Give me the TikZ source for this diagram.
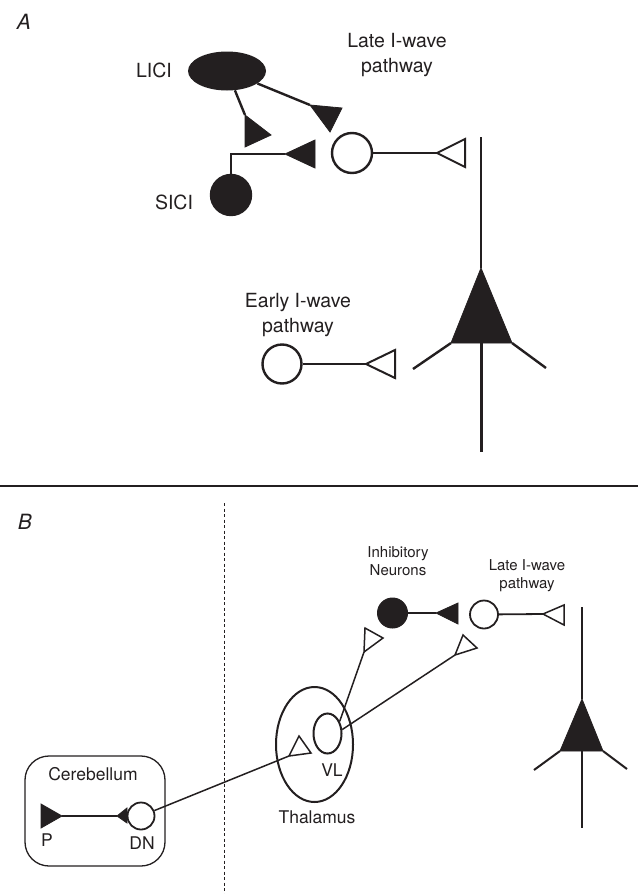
\documentclass[tikz,border=0pt]{standalone}
\usepackage{fontspec}
\setmainfont{TeX Gyre Heros}
\usetikzlibrary{shapes.geometric}
\definecolor{ink}{RGB}{35,31,32}
\tikzset{axon/.style={draw=ink, line width=2.4pt}, thinaxon/.style={draw=ink, line width=1.5pt},
  synfill/.style={fill=ink, draw=ink, line width=0.8pt, line join=miter},
  synopen/.style={draw=ink, fill=white, line width=2pt, line join=miter},
  soma/.style={circle, draw=ink, line width=2.4pt, inner sep=0pt},
  lblA/.style={font=\fontsize{19.5}{25}\selectfont, text=ink, align=center, inner sep=0pt},
  lblB/.style={font=\fontsize{17.5}{21}\selectfont, text=ink, align=center, inner sep=0pt},
  lblS/.style={font=\fontsize{15}{18}\selectfont, text=ink, align=center, inner sep=0pt},
  panel/.style={font=\itshape\fontsize{21}{25}\selectfont, text=ink, inner sep=0pt}}

\begin{document}
\begin{tikzpicture}[x=1pt,y=-1pt]
       \useasboundingbox (0,0) rectangle (638,894);
       % panel A
       \begin{scope}
        \node[panel] (labA) at (24,22) {A};
        \node[ellipse, fill=ink, minimum width=78pt, minimum height=39pt, inner sep=0pt] (lici) at (227,71) {};
        \node[lblA] (liciL) at (154,70) {LICI};
        \node[soma, fill=ink, minimum size=40pt] (sici) at (231,195) {};
        \node[lblA] (siciL) at (174,202) {SICI};
        \node[soma, minimum size=40pt] (late) at (352,153) {};
        \node[lblA] (lateL) at (397,55) {Late I-wave\\pathway};
        \node[soma, minimum size=39pt] (early) at (282,364) {};
        \node[lblA] (earlyL) at (298,315) {Early I-wave\\pathway};
        \coordinate (s1) at (245,115);
        \coordinate (s2) at (310,105);
        \coordinate (s3) at (285,154);
        \coordinate (s4) at (437,153);
        \coordinate (s5) at (366,364);
        \coordinate (pyrA) at (481,268);
        \draw[axon] (lici) -- (s1);
        \filldraw[synfill] (s1) -- ++(0,32) -- ++(26,-12) -- cycle;
        \draw[axon] (lici) -- (s2);
        \filldraw[synfill] (s2) -- ++(32,3) -- ++(-12,24) -- cycle;
        \draw[axon] (sici.north) |- (s3);
        \filldraw[synfill] (s3) -- ++(30,-14) -- ++(0,28) -- cycle;
        \draw[axon] (late) -- (s4);
        \draw[synopen] (s4) -- ++(28,-14) -- ++(0,28) -- cycle;
        \draw[axon] (early) -- (s5);
        \draw[synopen] (s5) -- ++(29,-14) -- ++(0,28) -- cycle;
        \draw[axon] (pyrA) -- ++(0,-131);
        \filldraw[synfill] (pyrA) -- ++(-30,75) -- ++(61,0) -- cycle;
        \draw[axon] (pyrA) ++(-30,75) -- ++(-38,26);
        \draw[axon] (pyrA) ++(31,75) -- ++(34,25);
        \draw[axon] (pyrA) ++(0.5,75) -- ++(0,109);
       \end{scope}
       \draw[ink, line width=2.5pt] (0,486) -- (638,486);
       % panel B
       \begin{scope}
        \node[panel] (labB) at (25,522) {B};
        \draw[ink, line width=1pt, dash pattern=on 3pt off 2.5pt] (224,503) -- (224,894);
        \node[draw=ink, line width=1.3pt, rounded corners=24pt, minimum width=140pt, minimum height=110pt] (cereb) at (95,811) {};
        \node[lblB] (cerebL) at (93,774) {Cerebellum};
        \node[soma, line width=1.8pt, minimum size=27pt] (dn) at (141,816) {};
        \node[lblB] (dnL) at (142,843) {DN};
        \node[lblB] (pL) at (47,840) {P};
        \node[ellipse, draw=ink, line width=2pt, minimum width=77pt, minimum height=115pt, inner sep=0pt] (thal) at (314.5,744.5) {};
        \node[lblB] (thalL) at (317,817) {Thalamus};
        \node[ellipse, draw=ink, line width=2pt, minimum width=28pt, minimum height=40pt, inner sep=0pt] (vl) at (327.5,733.5) {};
        \node[lblB] (vlL) at (332,770) {VL};
        \node[soma, fill=ink, line width=1pt, minimum size=30pt] (inh) at (392.5,613) {};
        \node[lblS] (inhL) at (398,561) {Inhibitory\\Neurons};
        \node[soma, line width=1.8pt, minimum size=28pt] (lateB) at (484,614.5) {};
        \node[lblS] (lateBL) at (527,576) {Late I-wave\\pathway};
        \coordinate (p) at (41,816);
        \coordinate (t1) at (117,816);
        \coordinate (t2) at (289,756);
        \coordinate (t3) at (364,652);
        \coordinate (t4) at (455,655);
        \coordinate (t5) at (436,613);
        \coordinate (t6) at (543,614);
        \coordinate (pyrB) at (582,699);
        \filldraw[synfill] (p) ++(0,-12) -- ++(0,24) -- ++(21,-12) -- cycle;
        \draw[thinaxon] (p) ++(21,0) -- (t1);
        \filldraw[synfill] (t1) -- ++(10,-8) -- ++(0,15) -- cycle;
        \draw[thinaxon] (dn) -- (t2);
        \draw[synopen, line width=1.5pt] (t2) -- ++(10,-20) -- ++(12,17) -- cycle;
        \draw[thinaxon] (vl.45) -- (t3);
        \draw[synopen, line width=1.5pt] (t3) -- ++(1,-24) -- ++(18,10) -- cycle;
        \draw[thinaxon] (vl.15) -- (t4);
        \draw[synopen, line width=1.5pt] (t4) -- ++(8,-20) -- ++(14,13) -- cycle;
        \draw[axon, line width=2pt] (inh) -- (t5);
        \filldraw[synfill] (t5) -- ++(22,-10) -- ++(0,21) -- cycle;
        \draw[axon, line width=1.8pt] (lateB) -- (t6);
        \draw[synopen, line width=1.5pt] (t6) -- ++(21,-9) -- ++(0,20) -- cycle;
        \draw[axon, line width=2pt] (pyrB) -- ++(0,-92);
        \filldraw[synfill] (pyrB) -- ++(-22,52) -- ++(43,0) -- cycle;
        \draw[axon, line width=2pt] (pyrB) ++(-22,52) -- ++(-26,19);
        \draw[axon, line width=2pt] (pyrB) ++(21,52) -- ++(24,18);
        \draw[axon, line width=2pt] (pyrB) ++(0,52) -- ++(0,77);
       \end{scope}
      \end{tikzpicture}
\end{document}
